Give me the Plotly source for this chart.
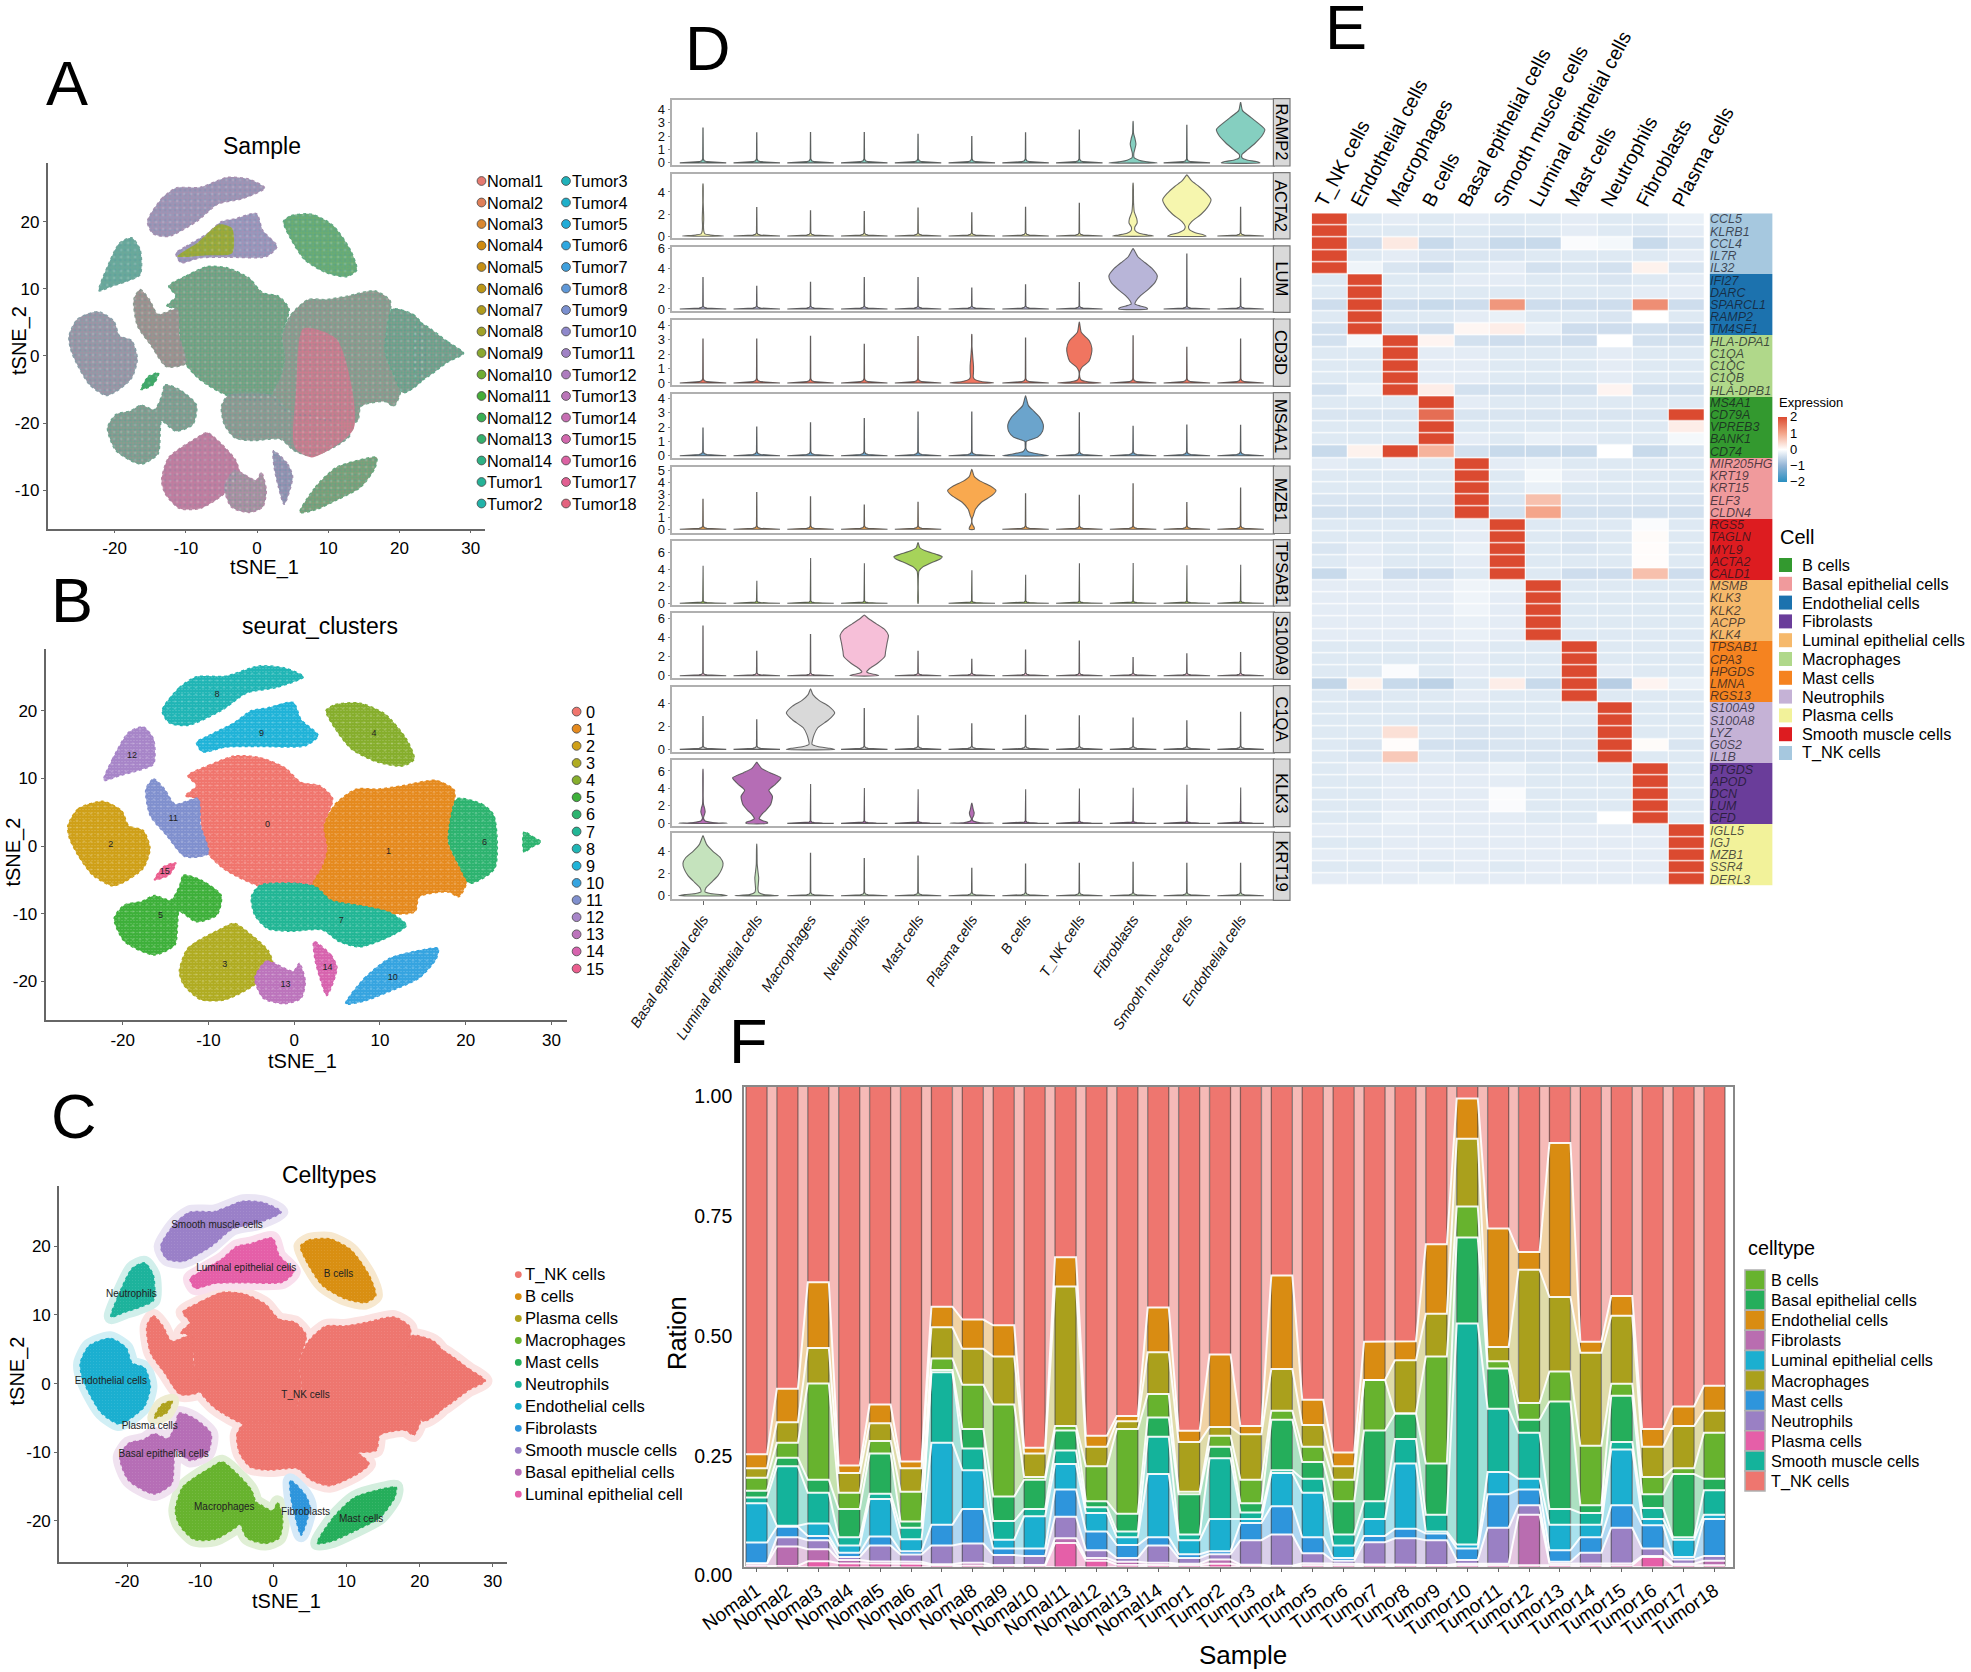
import plotly.graph_objects as go

W, H = 1971, 1672
FONT = "Liberation Sans"
NARROW = "Liberation Sans Narrow, Liberation Sans"

# ---------- tSNE cluster outlines (tSNE_1, tSNE_2) ----------
C0 = [(-12.4,10.4),(-10,11.9),(-7,13.3),(-4.1,13.1),(-1.1,11.6),(.8,9.4),(3,8.9),(4.5,7),(3.5,3),(3.9,-.4),(3.3,-3.1),(2.1,-6),(-.1,-6.8),(-3.1,-6.3),(-5,-5.5),(-7,-4.3),(-8.5,-3.1),(-10.5,-.4),(-10.9,4),(-11.4,7),(-12.7,7.4),(-11.4,8.9)]
C1 = [(3.5,3),(4.8,6.2),(7.2,8.4),(9.7,8.4),(12.6,8.9),(16.5,9.7),(18.7,8.2),(18.3,4),(18,.6),(19.2,-2.8),(20.2,-5),(19.2,-7.5),(18,-6.8),(14.6,-7.5),(14.1,-9.7),(11.1,-10),(7.7,-9.2),(4.3,-8.5),(2.1,-6),(3.3,-3.1),(3.9,-.4)]
C2 = [(-26.4,3),(-25.2,5.5),(-22.3,6.6),(-20.1,5.2),(-19.3,3),(-17.6,2.3),(-16.8,-.4),(-17.6,-3.3),(-19.8,-5.3),(-21.2,-5.9),(-23.5,-4.3),(-25.2,-1.4),(-26.2,1.1)]
C3 = [(-13.4,-18.5),(-12.4,-15.1),(-8.5,-12.2),(-7,-11.4),(-5,-13.1),(-3,-15.5),(-2.5,-17.5),(-4.6,-20.5),(-8,-22.7),(-10.9,-22.7),(-12.9,-20.5)]
C4 = [(3.7,20),(4.8,20.9),(7.7,21.1),(10.6,19.5),(13.1,15.8),(14,12.8),(12.6,11.8),(9.7,12.4),(6.7,14.3),(4.8,17.3)]
C5 = [(-13.4,-6),(-12.9,-4.3),(-10.9,-5),(-8.5,-7.3),(-9,-10.2),(-11.4,-11.2),(-13.4,-9.7),(-13.6,-11.7),(-13.9,-14.6),(-16.3,-16.1),(-19.8,-14.1),(-21,-10.7),(-19.8,-8.7),(-17.8,-8.2),(-16.3,-7.3),(-14.4,-8)]
C6 = [(19,7),(21.9,6.2),(23.3,4.5),(23.4,-3.3),(20.5,-5.5),(19.2,-2.8),(18,.6),(18.3,4.5)]
C6B = [(26.8,2.1),(27.8,1.4),(28.8,.6),(27.8,-.1),(26.8,-.9)]
C6_BRIDGE = [(22.5,5),(26.8,2.1),(29,.4),(26.8,-.9),(22.5,-3.8)]
C7 = [(-4.6,-10.2),(-5,-7.5),(-4,-5.8),(.3,-5.5),(2.5,-6),(4.3,-8),(7.7,-8.8),(11.1,-9.8),(13.1,-11.7),(11.6,-13.1),(7.7,-14.9),(5.2,-14.1),(3.3,-12.4),(-.6,-12.6),(-3.1,-12.2)]
C8 = [(-15.4,20),(-13.4,23.4),(-11.4,25),(-8,25.1),(-4.1,26.6),(-1.1,26.3),(1.1,25),(-2.1,23.4),(-5.5,22.6),(-8.5,20),(-12.4,17.8),(-14.6,18.2)]
C9 = [(-11.4,15.3),(-10,16.3),(-7,18.2),(-5,20),(-3.1,20.4),(-.1,21.2),(.8,18.7),(2.8,16.3),(1.3,14.8),(-4.1,14.7),(-8,14.6),(-10.7,13.9)]
C10 = [(6,-23.3),(8.2,-19.5),(11.1,-16.6),(15.1,-15.3),(16.8,-15.1),(16.6,-16.6),(14.6,-19.5),(11.1,-21.5),(8.2,-22.9)]
C11 = [(-17.3,8.4),(-16.4,9.9),(-15.1,8.4),(-13.9,6.2),(-11.2,7),(-10.9,3),(-10,-1.1),(-12.7,-1.6),(-14.9,1.6),(-16.8,4.5)]
C12 = [(-22.2,9.7),(-21.2,12.8),(-19.3,16.8),(-17.6,17.6),(-16.4,15.8),(-16.4,12.1),(-18.3,11.1),(-20.3,10.4)]
C13 = [(-4.6,-19.5),(-3.2,-17),(-.1,-18.5),(.6,-17.3),(1.3,-20),(.8,-22.5),(-1.1,-23.3),(-3.6,-22.5)]
C14 = [(2.3,-14.1),(4.3,-16.1),(5,-18),(3.8,-22.1),(3,-19.5),(2.4,-16.6)]
C15 = [(-16.3,-5),(-15.3,-3.1),(-13.8,-2.5),(-14.6,-4.3)]
CLUSTERS = [C0,C1,C2,C3,C4,C5,C6,C7,C8,C9,C10,C11,C12,C13,C14,C15]
# local mixtures visible in panel A
A_OLIVE_PATCH = [(-11.2,14.8),(-8.3,16.9),(-5.3,19.6),(-3.5,19),(-3.5,15.3),(-7.1,15)]
A_PINK_PATCH = [(6.5,4.1),(11.2,2.5),(13.6,-10.8),(7.7,-15.1),(5.3,-13.6),(5.5,-5)]

SAMPLES = ["Nomal%d" % i for i in range(1,15)] + ["Tumor%d" % i for i in range(1,19)]
SAMPLE_COLORS = ["#E67A70","#DF7F58","#D98730","#CF8A10","#C69015","#BC9718","#B09C1E","#A0A228","#8AA830","#6EAC33","#45AE38","#3BAF55","#36B06D","#2EB184","#25B297","#22B3A9","#20B2BA","#1FB0CA","#22ACD8","#2FA7E0","#3FA0DD","#5F98D8","#7B90D0","#8F88CB","#A082C5","#AD7CBE","#BA75B8","#C66EB2","#D268AD","#DC62A3","#E25F92","#E4637F"]
CLUSTER_COLORS = ["#F0756D","#E58A1E","#CFA018","#B0AC22","#86AE2C","#3EB03A","#2DB36F","#22B695","#20B5B5","#20B3D8","#36A4E0","#8090CE","#A785C8","#BC74BC","#D763AE","#EB5E8E"]
CLUSTER_LABEL_X = [-3.1,11,-21.4,-8.1,9.3,-15.6,22.2,5.5,-9,-3.8,11.5,-14.1,-18.9,-1,3.9,-15.1]
CLUSTER_LABEL_Y = [3.2,-.9,.2,-17.6,16.6,-10.3,.5,-11,22.4,16.6,-19.4,4.1,13.3,-20.5,-18,-3.8]
# sample mixture look of each cluster in panel A
A_BASE = ["#5FA982","#79A58E","#8A9FA8","#B885A0","#5FAA80","#6FA58F","#5FA88A","#7AA392","#A88FB0","#A58FB4","#66A87C","#8E9A90","#6FA69A","#B58AA8","#A08FB0","#3EAA66"]
A_SPOT = ["#DE7F8C","#E4688A","#D8709A","#DC5F9E","#8FB04A","#E07A90","#E07A90","#E0708A","#6FA8C8","#6FB0D0","#D87C70","#D86E88","#4FB09C","#5FB07C","#4FA0B0","#4FA070"]

CELLTYPE_ORDER = ["T_NK cells","B cells","Plasma cells","Macrophages","Mast cells","Neutrophils","Endothelial cells","Fibrolasts","Smooth muscle cells","Basal epithelial cells","Luminal epithelial cell"]
CELLTYPE_COLORS = ["#EE766F","#D98F12","#AEA21C","#67B32E","#25AE5B","#1DB39C","#1BAFD0","#2E95DC","#9A80C8","#B66EB6","#E55FA8"]
# index in CELLTYPE_ORDER of each cluster
CLUSTER_CELLTYPE = [0,0,6,3,1,9,0,0,8,10,4,0,5,3,7,2]
C_LABELS = ["Smooth muscle cells","Luminal epithelial cells","B cells","Neutrophils","Endothelial cells","T_NK cells","Plasma cells","Basal epithelial cells","Macrophages","Fibroblasts","Mast cells"]
C_LABEL_X = [-7.7,-3.7,8.9,-19.4,-22.2,4.4,-16.9,-15,-6.7,4.4,12]
C_LABEL_Y = [23,16.8,15.9,13,.3,-1.7,-6.3,-10.3,-18,-18.8,-19.8]

# ---------- panel D ----------
D_CELLS = ["Basal epithelial cells","Luminal epithelial cells","Macrophages","Neutrophils","Mast cells","Plasma cells","B cells","T_NK cells","Fibroblasts","Smooth muscle cells","Endothelial cells"]
D_GENES = ["RAMP2","ACTA2","LUM","CD3D","MS4A1","MZB1","TPSAB1","S100A9","C1QA","KLK3","KRT19"]
D_COLORS = ["#85CFC0","#F6F6AE","#B8B5D8","#F07560","#6BA4CC","#F9A94F","#A6D35A","#F6BFD8","#D9D9D9","#B56DB5","#C5E3BD"]
D_YRANGE = [(-.16,4.72),(-.17,5.67),(-.24,6.19),(-.17,4.35),(-.15,4.34),(-.27,5.3),(-.2,7.4),(-.27,6.5),(-.2,5.5),(-.27,7.26),(-.32,5.59)]
D_YTICKS = [[0,1,2,3,4],[0,2,4],[0,2,4,6],[0,1,2,3,4],[0,1,2,3,4],[0,1,2,3,4,5],[0,2,4,6],[0,2,4,6],[0,2,4],[0,2,4,6],[0,2,4]]
D_SPIKES = [
 [2.6,2.24,2.27,2.27,2.13,1.97,2.24,2.45,None,2.8,None],
 [None,2.58,2.29,2.23,2.55,2.1,2.61,2.97,None,None,2.6],
 [3.12,2.27,2.66,3.12,3.12,2.09,2.41,2.62,None,5.46,3.05],
 [3.04,3.04,3.23,2.67,3.21,None,3.11,None,3.26,2.47,3.04],
 [1.93,2.0,2.3,2.6,3.05,3.05,None,3.0,2.05,2.15,2.13],
 [2.55,3.12,2.76,2.06,2.3,None,3.03,2.9,3.88,2.27,3.5],
 [4.43,2.66,5.36,4.73,None,3.92,3.38,4.73,4.77,4.51,4.56],
 [5.16,2.54,4.29,None,2.54,1.7,2.68,3.6,1.88,2.27,2.4],
 [2.88,2.59,None,3.59,2.94,2.24,3.0,2.94,2.76,2.5,3.26],
 [None,None,4.5,4.05,3.9,None,3.9,4.0,4.08,4.43,4.12],
 [None,None,3.79,3.34,3.55,2.45,2.84,2.9,2.99,2.9,2.9],
]
# thin violin: offset above zero and half width as share of the full violin
THIN_VALUES = [0,.04,.09,.16,.3]
THIN_WIDTHS = [.96,.5,.16,.05,.012]
# large violins: (gene row, cell column, values, half widths)
D_VIOLINS = [
 (0,10,[0,.1,.2,.35,.6,1,1.5,2,2.5,3,3.5,3.9,4.5],[.8,.65,.3,.07,.05,.3,.62,.88,1,.7,.35,.08,.005]),
 (0,8,[0,.1,.2,.4,.7,1,1.4,1.8,2.2,3.1],[1,.5,.25,.04,.03,.07,.12,.08,.02,.003]),
 (1,9,[0,.1,.3,.6,.87,1.3,2,2.6,3.3,3.9,4.5,5,5.55],[.8,.7,.35,.1,.07,.2,.6,.85,1,.8,.5,.2,.01]),
 (1,8,[0,.1,.25,.5,.8,1.2,1.6,2.2,3,4.8],[.85,.6,.25,.08,.07,.17,.15,.05,.02,.005]),
 (1,0,[0,.1,.2,.5,1,1.5,2,3,4.74],[.85,.3,.08,.03,.02,.03,.025,.01,.005]),
 (2,8,[0,.12,.3,.5,.8,1.3,2,2.7,3.3,4,4.6,5.2,6],[.6,.55,.3,.08,.12,.3,.65,.92,1,.8,.5,.2,.01]),
 (3,7,[0,.08,.2,.4,.8,1.1,1.5,2,2.4,2.9,3.2,3.5,4.2],[.9,.35,.08,.02,.02,.12,.4,.5,.52,.42,.25,.08,.005]),
 (3,5,[0,.1,.25,.4,.7,1.2,1.8,2.5,3.36],[.9,.4,.12,.06,.07,.07,.04,.01,.005]),
 (4,6,[0,.1,.3,.5,.8,1,1.3,1.7,2.2,2.7,3.1,3.5,4.18],[.95,.6,.1,.02,.02,.03,.5,.7,.73,.58,.35,.12,.005]),
 (5,5,[0,.15,.3,.5,.9,1.2,1.7,2.3,2.9,3.3,3.7,4.1,4.5,5.1],[.1,.1,.06,.015,.015,.07,.15,.4,.85,1,.75,.35,.1,.005]),
 (6,4,[0,2,3.8,4.3,4.8,5.2,5.5,5.8,6.2,6.6,7.17],[.008,.008,.04,.2,.55,.9,1,.75,.3,.07,.005]),
 (7,3,[0,.1,.25,.4,.7,1.3,2,2.5,3.5,4.2,4.8,5.4,5.9,6.3],[.6,.5,.2,.1,.2,.55,.85,.88,.95,1,.85,.5,.2,.01]),
 (8,2,[0,.1,.25,.45,.8,1.3,1.9,2.6,3.2,3.8,4.3,4.8,5.3],[1,.8,.3,.06,.08,.15,.3,.75,1,.75,.35,.1,.005]),
 (9,1,[0,.15,.3,.55,1,1.5,2.2,3.1,3.8,4.5,5.2,5.8,6.3,7],[.45,.42,.25,.1,.2,.38,.58,.65,.5,.78,1,.55,.2,.005]),
 (9,0,[0,.1,.3,.6,1,1.3,1.7,2.2,3,6.2],[1,.4,.08,.02,.06,.09,.07,.02,.01,.003]),
 (9,5,[0,.1,.3,.5,.9,1.2,1.6,2.3],[.9,.3,.05,.02,.08,.1,.06,.005]),
 (10,0,[0,.1,.2,.35,.7,1.2,1.8,2.4,2.9,3.4,4,4.6,5.37],[1,.75,.3,.08,.12,.35,.62,.78,.83,.72,.4,.15,.005]),
 (10,1,[0,.1,.3,.6,1.2,1.6,2,2.8,4.63],[.9,.3,.08,.05,.07,.08,.06,.02,.003]),
]

# ---------- panel E ----------
E_COLS = ["T_NK cells","Endothelial cells","Macrophages","B cells","Basal epithelial cells","Smooth muscle cells","Luminal epithelial cells","Mast cells","Neutrophils","Fibroblasts","Plasma cells"]
E_GENES = ["CCL5","KLRB1","CCL4","IL7R","IL32","IFI27","DARC","SPARCL1","RAMP2","TM4SF1","HLA-DPA1","C1QA","C1QC","C1QB","HLA-DPB1","MS4A1","CD79A","VPREB3","BANK1","CD74","MIR205HG","KRT19","KRT15","ELF3","CLDN4","RGS5","TAGLN","MYL9","ACTA2","CALD1","MSMB","KLK3","KLK2","ACPP","KLK4","TPSAB1","CPA3","HPGDS","LMNA","RGS13","S100A9","S100A8","LYZ","G0S2","IL1B","PTGDS","APOD","DCN","LUM","CFD","IGLL5","IGJ","MZB1","SSR4","DERL3"]
E_Z = [
 [2,-.3,-.25,-.3,-.25,-.3,-.3,-.25,-.3,-.3,-.2],
 [2,-.3,-.3,-.3,-.3,-.35,-.3,-.25,-.3,-.35,-.25],
 [2,-.45,.25,-.5,-.35,-.5,-.5,-.05,-.1,-.5,-.35],
 [2,-.3,-.25,-.35,-.35,-.35,-.3,-.3,-.3,-.3,-.25],
 [2,-.15,-.35,-.45,-.3,-.25,-.4,-.35,-.4,.15,-.35],
 [-.3,2,-.3,-.3,-.25,-.25,-.3,-.3,-.35,-.3,-.25],
 [-.3,2,-.3,-.3,-.3,-.3,-.3,-.3,-.3,-.25,-.25],
 [-.45,2,-.45,-.5,-.45,1.15,-.45,-.45,-.45,1.25,-.45],
 [-.3,2,-.3,-.3,-.25,-.2,-.3,-.3,-.35,0,-.3],
 [-.4,2,-.4,-.45,.1,.2,-.2,-.45,-.45,-.4,-.45],
 [-.4,-.1,2,.12,-.4,-.45,-.4,-.45,0,-.4,-.4],
 [-.3,-.3,2,-.25,-.25,-.3,-.3,-.3,-.25,-.3,-.3],
 [-.3,-.3,2,-.25,-.25,-.3,-.3,-.3,-.25,-.3,-.3],
 [-.3,-.3,2,-.25,-.25,-.3,-.3,-.3,-.25,-.3,-.3],
 [-.4,-.2,2,.2,-.4,-.4,-.4,-.4,.12,-.4,-.4],
 [-.3,-.3,-.3,2,-.25,-.3,-.3,-.3,-.3,-.3,-.3],
 [-.35,-.35,-.35,1.6,-.35,-.35,-.35,-.35,-.35,-.35,2],
 [-.3,-.3,-.3,2,-.3,-.3,-.3,-.3,-.3,-.3,.2],
 [-.3,-.3,-.3,2,-.25,-.3,-.2,-.25,-.3,-.3,-.1],
 [-.5,.15,2,.85,-.4,-.5,-.5,-.5,0,-.5,-.35],
 [-.25,-.3,-.25,-.3,2,-.25,-.2,-.3,-.3,-.3,-.3],
 [-.3,-.3,-.3,-.3,2,-.3,-.1,-.25,-.3,-.3,-.3],
 [-.3,-.3,-.3,-.3,2,-.3,-.2,-.3,-.3,-.3,-.3],
 [-.35,-.35,-.35,-.35,2,-.35,.7,-.35,-.35,-.35,-.35],
 [-.4,-.4,-.4,-.4,2,-.4,1.0,-.4,-.4,-.4,-.4],
 [-.3,-.3,-.3,-.3,-.25,2,-.3,-.3,-.3,-.05,-.3],
 [-.3,-.3,-.3,-.3,-.25,2,-.3,-.35,-.3,.05,-.3],
 [-.35,-.25,-.3,-.3,-.2,2,-.3,-.35,-.3,.03,-.3],
 [-.3,-.25,-.3,-.3,-.25,2,-.3,-.3,-.3,.03,-.3],
 [-.5,-.2,-.45,-.45,-.3,2,-.3,-.45,-.45,.7,-.45],
 [-.25,-.25,-.25,-.25,-.15,-.2,2,-.3,-.3,-.3,-.3],
 [-.25,-.25,-.25,-.25,-.15,-.25,2,-.3,-.3,-.3,-.3],
 [-.25,-.25,-.25,-.25,-.15,-.25,2,-.3,-.3,-.3,-.3],
 [-.25,-.25,-.25,-.25,-.2,-.25,2,-.3,-.3,-.3,-.3],
 [-.25,-.25,-.25,-.25,-.2,-.25,2,-.3,-.3,-.3,-.3],
 [-.3,-.3,-.3,-.3,-.25,-.3,-.3,2,-.3,-.3,-.3],
 [-.3,-.3,-.3,-.3,-.25,-.3,-.3,2,-.3,-.3,-.3],
 [-.3,-.3,-.05,-.3,-.25,-.3,-.3,2,-.25,-.3,-.3],
 [-.55,.15,-.5,-.6,-.3,.2,-.5,2,-.65,.12,-.2],
 [-.3,-.35,-.3,-.3,-.25,-.3,-.3,2,-.3,-.3,-.3],
 [-.3,-.3,-.3,-.3,-.3,-.3,-.3,-.3,2,-.3,-.3],
 [-.3,-.3,-.3,-.35,-.35,-.3,-.3,-.3,2,-.3,-.3],
 [-.3,-.3,.35,-.3,-.35,-.35,-.3,-.35,2,-.3,-.3],
 [-.3,-.35,.03,-.4,-.4,-.35,-.35,-.35,2,.05,-.35],
 [-.3,-.35,.6,-.3,-.35,-.35,-.35,-.35,2,-.3,-.3],
 [-.3,-.25,-.25,-.25,-.25,-.2,-.3,-.3,-.3,2,-.3],
 [-.3,-.3,-.25,-.25,-.25,-.25,-.3,-.3,-.3,2,-.3],
 [-.3,-.3,-.25,-.25,-.25,-.05,-.3,-.3,-.3,2,-.3],
 [-.3,-.3,-.25,-.25,-.25,-.05,-.3,-.3,-.3,2,-.3],
 [-.3,-.3,-.2,-.25,-.25,-.25,-.3,-.3,0,2,-.3],
 [-.25,-.25,-.25,-.25,-.25,-.25,-.25,-.25,-.25,-.25,2],
 [-.3,-.3,-.25,-.25,-.25,-.25,-.25,-.25,-.25,-.25,2],
 [-.25,-.25,-.25,-.25,-.25,-.25,-.25,-.25,-.25,-.25,2],
 [-.3,-.3,-.25,-.3,-.25,-.3,-.25,-.25,-.25,-.25,2],
 [-.25,-.25,-.25,-.2,-.25,-.25,-.25,-.25,-.25,-.25,2],
]
E_GROUPS = ["T_NK cells","Endothelial cells","Macrophages","B cells","Basal epithelial cells","Smooth muscle cells","Luminal epithelial cells","Mast cells","Neutrophils","Fibrolasts","Plasma cells"]
E_GROUP_COLORS = ["#A6C8DF","#1C72AE","#B0D88A","#33992F","#F09A9C","#DD1C20","#F6B96B","#F58320","#C5B2D6","#6A3D9A","#F2F29A"]
E_LEGEND = ["B cells","Basal epithelial cells","Endothelial cells","Fibrolasts","Luminal epithelial cells","Macrophages","Mast cells","Neutrophils","Plasma cells","Smooth muscle cells","T_NK cells"]

# ---------- panel F: cumulative tops of each layer per sample ----------
F_LAYERS = ["Plasma cells","Fibrolasts","Neutrophils","Mast cells","Luminal epithelial cells","Smooth muscle cells","Basal epithelial cells","B cells","Macrophages","Endothelial cells"]
F_TOPS = [
 [.001,.006,.007,.05,.132,.144,.158,.185,.205,.234],
 [.002,.042,.061,.083,.085,.209,.227,.258,.301,.371],
 [.011,.036,.055,.064,.09,.154,.181,.382,.456,.593],
 [.007,.014,.02,.029,.044,.061,.12,.154,.195,.211],
 [.006,.011,.044,.063,.141,.152,.236,.262,.299,.338],
 [.006,.01,.025,.032,.057,.081,.094,.156,.205,.219],
 [.003,.005,.044,.087,.258,.405,.41,.434,.499,.542],
 [.003,.008,.048,.12,.201,.246,.287,.379,.454,.515],
 [.002,.003,.024,.038,.056,.095,.146,.338,.438,.503],
 [.002,.004,.022,.038,.105,.12,.181,.187,.236,.248],
 [.049,.059,.104,.161,.214,.242,.284,.293,.584,.645],
 [.012,.018,.034,.073,.112,.124,.136,.209,.25,.273],
 [.004,.01,.018,.045,.061,.073,.11,.287,.303,.314],
 [.004,.008,.044,.061,.193,.271,.311,.36,.447,.54],
 [.003,.006,.018,.026,.055,.067,.151,.156,.26,.283],
 [.006,.015,.026,.032,.099,.226,.25,.273,.291,.442],
 [.002,.004,.055,.091,.099,.113,.132,.181,.276,.293],
 [.001,.002,.067,.126,.195,.201,.306,.325,.412,.607],
 [.003,.007,.028,.061,.154,.183,.218,.25,.295,.348],
 [.002,.006,.012,.018,.044,.067,.136,.181,.209,.238],
 [.002,.005,.051,.064,.099,.136,.284,.389,.389,.469],
 [.002,.004,.059,.079,.215,.266,.319,.319,.43,.47],
 [.002,.003,.055,.069,.073,.108,.215,.438,.527,.672],
 [.002,.006,.014,.038,.046,.507,.686,.751,.892,.976],
 [.002,.006,.081,.151,.197,.329,.413,.428,.458,.705],
 [.003,.108,.128,.161,.183,.279,.306,.341,.619,.656],
 [.002,.006,.01,.034,.087,.12,.344,.407,.562,.883],
 [.002,.006,.029,.061,.087,.112,.128,.252,.446,.469],
 [.003,.007,.081,.128,.244,.26,.356,.381,.523,.564],
 [.02,.022,.038,.086,.099,.122,.151,.187,.25,.287],
 [.003,.006,.015,.02,.056,.061,.193,.205,.293,.334],
 [.003,.012,.022,.099,.108,.159,.183,.279,.325,.377],
]
F_COLORS = ["#E55FA8","#B96DB0","#9A80C4","#2E95DC","#1BAFD0","#14B39B","#25AE5B","#67B32E","#AAA01C","#D98C12"]
F_TNK_COLOR = "#EE766F"
F_LEGEND = ["B cells","Basal epithelial cells","Endothelial cells","Fibrolasts","Luminal epithelial cells","Macrophages","Mast cells","Neutrophils","Plasma cells","Smooth muscle cells","T_NK cells"]
F_LEGEND_COLORS = ["#67B32E","#25AE5B","#D98C12","#B96DB0","#1BAFD0","#AAA01C","#2E95DC","#9A80C4","#E55FA8","#14B39B","#EE766F"]

# ---------- helpers ----------
fig = go.Figure()
layout = {}
annots = []
shapes = []

def PX(p): return p / W
def PY(p): return 1 - p / H

def axes(n, l, r, t, b, xr, yr, xkw=None, ykw=None):
    s = "" if n == 1 else str(n)
    layout["xaxis" + s] = dict(domain=[PX(l), PX(r)], range=xr, anchor="y" + s, showgrid=False, zeroline=False, **(xkw or {}))
    layout["yaxis" + s] = dict(domain=[PY(b), PY(t)], range=yr, anchor="x" + s, showgrid=False, zeroline=False, **(ykw or {}))
    return "x" + s, "y" + s

def text(x, y, s, size, color="black", xa="center", ya="middle", angle=0, family=FONT, italic=False):
    t = "<i>%s</i>" % s if italic else s
    annots.append(dict(x=PX(x), y=PY(y), xref="paper", yref="paper", text=t, showarrow=False, xanchor=xa, yanchor=ya,
                       textangle=angle, font=dict(size=size, color=color, family=family), borderpad=0, borderwidth=0))

def dot(x, y, r, color, line=None, lw=1):
    shapes.append(dict(type="circle", xref="paper", yref="paper", x0=PX(x-r), x1=PX(x+r), y0=PY(y+r), y1=PY(y-r),
                       fillcolor=color, line=dict(color=line or color, width=lw if line else 0)))

def box(x0, y0, x1, y1, color, line=None, lw=1):
    shapes.append(dict(type="rect", xref="paper", yref="paper", x0=PX(x0), x1=PX(x1), y0=PY(y1), y1=PY(y0),
                       fillcolor=color, line=dict(color=line or color, width=lw if line else 0)))

def xy(poly):
    pts = list(poly) + [poly[0]]
    return [p[0] for p in pts], [p[1] for p in pts]

def pale(c, k):
    r, g, b = int(c[1:3],16), int(c[3:5],16), int(c[5:7],16)
    return "rgb(%d,%d,%d)" % (255-(255-r)*k, 255-(255-g)*k, 255-(255-b)*k)

def rgba(c, a):
    return "rgba(%d,%d,%d,%g)" % (int(c[1:3],16), int(c[3:5],16), int(c[5:7],16), a)

TICK = dict(tickfont=dict(size=17, family=FONT, color="black"), showline=True, linecolor="#666666", linewidth=1.6,
            ticks="outside", ticklen=3, tickcolor="#666666", tickwidth=1.2)
XT = [-20,-10,0,10,20,30]

def tsne_axes(n, l, r, t, b, xr, yr, yvals, ylabels):
    return axes(n, l, r, t, b, xr, yr,
                dict(tickmode="array", tickvals=XT, ticktext=[str(v) for v in XT], **TICK),
                dict(tickmode="array", tickvals=yvals, ticktext=ylabels, **TICK))

def poly_trace(poly, xa, ya, fill, dash_color=None, pattern=None, lw=1.4):
    x, y = xy(poly)
    kw = {}
    if pattern:
        kw["fillpattern"] = pattern
    line = dict(color=dash_color, width=lw, dash="dot", shape="spline", smoothing=.7) if dash_color else dict(width=0, color="rgba(0,0,0,0)", shape="spline", smoothing=.7)
    fig.add_trace(go.Scatter(x=x, y=y, xaxis=xa, yaxis=ya, mode="lines", fill="toself", fillcolor=fill, line=line,
                             hoverinfo="skip", showlegend=False, **kw))

CLEAR = "rgba(0,0,0,0)"

def speckle(poly, xa, ya, fg, size, solidity):
    poly_trace(poly, xa, ya, CLEAR, pattern=dict(shape=".", fgcolor=fg, bgcolor=CLEAR, size=size, solidity=solidity))

# ---------- panel A ----------
xa, ya = tsne_axes(1, 47.6, 485, 162.5, 528.6, [-29.4, 32], [-25.7, 28.8], [20,10,0,-10,-20], ["20","10","0","-20","-10"])
for i, poly in enumerate(CLUSTERS + [C6_BRIDGE]):
    idx = 6 if i == 16 else i
    poly_trace(poly, xa, ya, A_BASE[idx], dash_color=A_BASE[idx],
               pattern=dict(shape=".", fgcolor=A_SPOT[idx], bgcolor=A_BASE[idx], size=3, solidity=.4))
poly_trace(A_OLIVE_PATCH, xa, ya, "#A3A838", pattern=dict(shape=".", fgcolor="#6FB040", bgcolor="#A3A838", size=3, solidity=.4))
poly_trace(A_PINK_PATCH, xa, ya, "#D4778F", pattern=dict(shape=".", fgcolor="#6FA585", bgcolor="#D4778F", size=3, solidity=.35))
for i, poly in enumerate(CLUSTERS + [C6_BRIDGE]):
    speckle(poly, xa, ya, "rgba(60,130,170,.6)", 5, .12)
    speckle(poly, xa, ya, "rgba(255,255,255,.55)", 7, .07)
text(262, 146, "Sample", 23)
text(66.5, 83, "A", 63)
text(264, 567, "tSNE_1", 20)
text(19, 341, "tSNE_2", 20, angle=-90)
for i, s in enumerate(SAMPLES):
    col, row = (0, i) if i < 16 else (1, i - 16)
    y = 181 + row * 21.5
    mx = 481.5 if col == 0 else 566
    dot(mx, y, 4.4, SAMPLE_COLORS[i], "#444444", .8)
    text(mx + 5.5, y, s, 16.3, xa="left")

# ---------- panel B ----------
xa, ya = tsne_axes(2, 45.5, 566.5, 649, 1020.4, [-29, 31.76], [-25.76, 29.1], [20,10,0,-10,-20], ["20","10","0","-10","-20"])
for i, poly in enumerate(CLUSTERS + [C6B]):
    idx = 6 if i == 16 else i
    c = CLUSTER_COLORS[idx]
    poly_trace(poly, xa, ya, c, dash_color=c,
               pattern=dict(shape=".", fgcolor="rgba(255,255,255,.7)", bgcolor=c, size=3, solidity=.1))
    speckle(poly, xa, ya, "rgba(255,255,255,.6)", 7, .05)
fig.add_trace(go.Scatter(x=CLUSTER_LABEL_X, y=CLUSTER_LABEL_Y, xaxis=xa, yaxis=ya, mode="text",
                         text=[str(i) for i in range(16)], textfont=dict(size=9, family=FONT, color="#222222"),
                         hoverinfo="skip", showlegend=False))
text(320, 626, "seurat_clusters", 23)
text(72, 600, "B", 63)
text(302, 1061, "tSNE_1", 20)
text(12.6, 852, "tSNE_2", 20, angle=-90)
for i in range(16):
    y = 711.6 + i * 17.13
    dot(576.6, y, 4.4, CLUSTER_COLORS[i], "#444444", .8)
    text(586, y, str(i), 16.3, xa="left")

# ---------- panel C ----------
xa, ya = tsne_axes(3, 59, 506.7, 1186, 1562, [-29.3, 31.9], [-26, 28.8], [20,10,0,-10,-20], ["20","10","0","-10","-20"])
for i, poly in enumerate(CLUSTERS + [C6_BRIDGE]):
    idx = 6 if i == 16 else i
    c = CELLTYPE_COLORS[CLUSTER_CELLTYPE[idx]]
    x, y = xy(poly)
    fig.add_trace(go.Scatter(x=x, y=y, xaxis=xa, yaxis=ya, mode="lines", fill="toself", fillcolor=pale(c, .2),
                             line=dict(color=pale(c, .2), width=14, shape="spline", smoothing=.7), hoverinfo="skip", showlegend=False))
for i, poly in enumerate(CLUSTERS + [C6_BRIDGE]):
    idx = 6 if i == 16 else i
    c = CELLTYPE_COLORS[CLUSTER_CELLTYPE[idx]]
    poly_trace(poly, xa, ya, c, dash_color=c,
               pattern=dict(shape=".", fgcolor="rgba(255,255,255,.4)", bgcolor=c, size=3, solidity=.07))
fig.add_trace(go.Scatter(x=C_LABEL_X, y=C_LABEL_Y, xaxis=xa, yaxis=ya, mode="text", text=C_LABELS,
                         textfont=dict(size=10, family=NARROW, color="#222222"), hoverinfo="skip", showlegend=False))
text(329, 1175, "Celltypes", 23)
text(74, 1116, "C", 63)
text(286, 1601, "tSNE_1", 20)
text(16.5, 1371, "tSNE_2", 20, angle=-90)
for i, s in enumerate(CELLTYPE_ORDER):
    y = 1274.6 + i * 21.96
    dot(518.3, y, 3.4, CELLTYPE_COLORS[i])
    text(525.4, y, s, 16.6, xa="left")

# ---------- panel D ----------
D_TOPS = [99.6,173.6,246.8,320,393.6,467,540.7,613.3,686.7,760,833.3]
D_BOTS = [165,237.9,311.4,385.4,457.9,532.5,605,678.3,751.7,825.7,899.3]
HALF = 0.45
for r, gene in enumerate(D_GENES):
    n = 4 + r
    xkw = dict(showline=True, mirror=True, linecolor="#B0B0B0", linewidth=2, tickmode="array", tickvals=list(range(1,12)))
    if r == len(D_GENES) - 1:
        xkw.update(ticktext=D_CELLS, tickangle=-57, ticks="outside", ticklen=4, tickcolor="#666666",
                   tickfont=dict(size=14.5, family=FONT, color="#111111", style="italic"))
    else:
        xkw.update(showticklabels=False, ticks="")
    xa, ya = axes(n, 671.6, 1273.4, D_TOPS[r], D_BOTS[r], [.416, 11.61], list(D_YRANGE[r]), xkw,
                  dict(showline=True, mirror=True, linecolor="#B0B0B0", linewidth=2, tickmode="array", tickvals=D_YTICKS[r],
                       ticks="outside", ticklen=2, tickcolor="#888888", tickfont=dict(size=13, family=FONT, color="#111111")))
    xs, ys = [], []
    for c, top in enumerate(D_SPIKES[r]):
        if top is None:
            continue
        vals = THIN_VALUES + [top]
        wid = THIN_WIDTHS + [.004]
        xs += [c + 1 - w * HALF for w in wid] + [c + 1 + w * HALF for w in reversed(wid)] + [c + 1 - wid[0] * HALF, None]
        ys += vals + list(reversed(vals)) + [vals[0], None]
    fig.add_trace(go.Scatter(x=xs, y=ys, xaxis=xa, yaxis=ya, mode="lines", fill="toself", fillcolor=D_COLORS[r],
                             line=dict(color="rgba(70,70,70,.85)", width=1.1), hoverinfo="skip", showlegend=False))
    for row, c, vals, wid in D_VIOLINS:
        if row != r:
            continue
        x = [c + 1 - w * HALF for w in wid] + [c + 1 + w * HALF for w in reversed(wid)]
        x.append(x[0])
        y = list(vals) + list(reversed(vals)) + [vals[0]]
        fig.add_trace(go.Scatter(x=x, y=y, xaxis=xa, yaxis=ya, mode="lines", fill="toself", fillcolor=D_COLORS[r],
                                 line=dict(color="rgba(70,70,70,.8)", width=1.1, shape="spline", smoothing=.6), hoverinfo="skip", showlegend=False))
    box(1273.4, D_TOPS[r] - 1, 1290, D_BOTS[r] + 1, "#D9D9D9", "#777777", 1.2)
    text(1281.7, (D_TOPS[r] + D_BOTS[r]) / 2, gene, 16.5, angle=90)
text(708, 48, "D", 63)

# ---------- panel E ----------
SCALE = [[0,"#2a8fc0"],[.25,"#91b4d6"],[.5,"#ffffff"],[.75,"#f4a58a"],[1,"#db4a30"]]
xa, ya = axes(15, 1311.7, 1704.3, 213.3, 885.7, [-.5, 10.5], [54.5, -.5],
              dict(side="top", tickmode="array", tickvals=list(range(11)), ticktext=E_COLS, tickangle=-62, ticks="",
                   ticklabelshift=-12, ticklabelstandoff=-5,
                   tickfont=dict(size=19.5, family=FONT, color="black"), showline=False),
              dict(showticklabels=False, ticks="", showline=False))
fig.add_trace(go.Heatmap(z=E_Z, x=list(range(11)), y=list(range(55)), xaxis=xa, yaxis=ya, colorscale=SCALE, zmin=-2, zmax=2,
                         xgap=1, ygap=1.2, hoverinfo="skip",
                         colorbar=dict(x=PX(1778), xanchor="left", y=PY(416.7), yanchor="top", thicknessmode="pixels", thickness=8.5,
                                       lenmode="pixels", len=65, xpad=0, ypad=0, outlinewidth=0, ticks="", tickvals=[-2,-1,0,1,2],
                                       tickfont=dict(size=13, family=FONT, color="black"))))
xa, ya = axes(16, 1709.6, 1772.6, 213.3, 885.7, [-.5, .5], [54.5, -.5],
              dict(showticklabels=False, ticks="", showline=False), dict(showticklabels=False, ticks="", showline=False))
strip_z = [[i // 5] for i in range(55)]
strip_scale = [[i / 10, c] for i, c in enumerate(E_GROUP_COLORS)]
fig.add_trace(go.Heatmap(z=strip_z, xaxis=xa, yaxis=ya, colorscale=strip_scale, zmin=0, zmax=10, showscale=False, hoverinfo="skip"))
CELL_H = (885.7 - 213.3) / 55
for i, g in enumerate(E_GENES):
    text(1709.6, 213.3 + (i + .5) * CELL_H, g, 12.5, color="rgba(20,20,30,.72)", xa="left", family=NARROW, italic=True)
text(1779, 403, "Expression", 13, xa="left")
text(1780, 537, "Cell", 20, xa="left")
for i, s in enumerate(E_LEGEND):
    y = 565 + i * 18.8
    box(1779, y - 7, 1792, y + 7, E_GROUP_COLORS[E_GROUPS.index(s)])
    text(1802, y, s, 16.3, xa="left")
text(1346, 27, "E", 63)

# ---------- panel F ----------
xa, ya = axes(17, 744, 1733, 1087, 1566.6, [.595, 32.6], [0, 1],
              dict(tickmode="array", tickvals=list(range(1,33)), ticktext=SAMPLES, tickangle=-35, ticks="outside", ticklen=4,
                   tickcolor="#666666", tickfont=dict(size=19, family=FONT, color="black"), showline=True, mirror=True,
                   linecolor="#888888", linewidth=1.6),
              dict(tickmode="array", tickvals=[0,.25,.5,.75,1], ticktext=["0.00","0.25","0.50","0.75","1.00"], ticks="", ticklabelshift=9, ticklabelstandoff=6,
                   tickfont=dict(size=19.5, family=FONT, color="black"), showline=True, mirror=True, linecolor="#888888", linewidth=1.6))
CATS = list(range(1, 33))
BW = .68
stack = [[0.0] * 32]
for top in zip(*F_TOPS):
    stack.append(list(top))
stack.append([1.0] * 32)
all_colors = F_COLORS + [F_TNK_COLOR]
for l in range(len(stack) - 1):
    low, up = stack[l], stack[l + 1]
    xs, ys = [], []
    for i in range(31):
        a, b = CATS[i] + BW / 2, CATS[i + 1] - BW / 2
        xs += [a, b, b, a, a, None]
        ys += [low[i], low[i + 1], up[i + 1], up[i], low[i], None]
    alpha = .5 if l == 10 else .38
    fig.add_trace(go.Scatter(x=xs, y=ys, xaxis=xa, yaxis=ya, mode="lines", fill="toself", fillcolor=rgba(all_colors[l], alpha),
                             line=dict(width=0, color="rgba(0,0,0,0)"), hoverinfo="skip", showlegend=False))
    fig.add_trace(go.Bar(x=CATS, y=[u - d for u, d in zip(up, low)], xaxis=xa, yaxis=ya, width=BW,
                         marker=dict(color=all_colors[l], line=dict(width=0)), hoverinfo="skip", showlegend=False))
ex, ey = [], []
for c in CATS:
    for e in (c - BW / 2, c + BW / 2):
        ex += [e, e, None]
        ey += [0, 1, None]
fig.add_trace(go.Scatter(x=ex, y=ey, xaxis=xa, yaxis=ya, mode="lines", line=dict(color="rgba(70,70,70,.6)", width=1.3),
                         hoverinfo="skip", showlegend=False))
for l in range(1, 11):
    xs, ys = [], []
    for i, c in enumerate(CATS):
        xs += [c - BW / 2, c + BW / 2]
        ys += [stack[l][i], stack[l][i]]
    fig.add_trace(go.Scatter(x=xs, y=ys, xaxis=xa, yaxis=ya, mode="lines", line=dict(color="rgba(255,255,255,.92)", width=2),
                             hoverinfo="skip", showlegend=False))
layout["barmode"] = "stack"
layout["bargap"] = 0
text(677, 1333, "Ration", 25.5, angle=-90)
text(1243, 1655, "Sample", 26)
text(748, 1041, "F", 63)
text(1748, 1247.5, "celltype", 19.8, xa="left")
for i, s in enumerate(F_LEGEND):
    y = 1280 + i * 20.1
    box(1745, y - 10, 1765, y + 10, F_LEGEND_COLORS[i], "#B0B0B0", 1.5)
    text(1770.7, y, s, 16.2, xa="left")

fig.update_layout(width=W, height=H, autosize=False, margin=dict(l=0, r=0, t=0, b=0, pad=0, autoexpand=False), paper_bgcolor="white",
                  plot_bgcolor="white", showlegend=False, annotations=annots, shapes=shapes, **layout)
fig.write_html("out.html", config={"displayModeBar": False},
               post_script="document.body.style.margin='0';document.documentElement.style.overflow='hidden';")
